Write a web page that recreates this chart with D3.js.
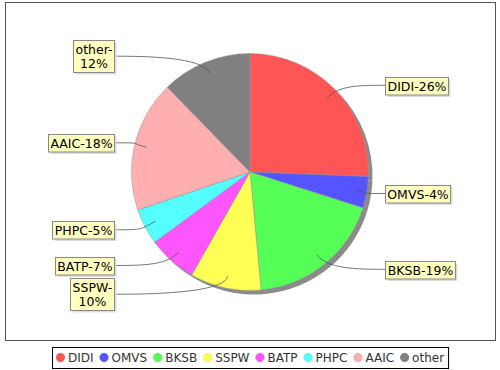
<!DOCTYPE html>
<html>
<head>
<meta charset="utf-8">
<script src="https://cdn.jsdelivr.net/npm/d3@7"></script>
<style>
  body { margin: 0; background: #fff; }
  text { font-family: "DejaVu Sans", sans-serif; }
</style>
</head>
<body>
<div id="chart"></div>
<script>
// slice data, clockwise from 12 o'clock
var names = ["DIDI", "OMVS", "BKSB", "SSPW", "BATP", "PHPC", "AAIC", "other"];
var shares = [25.6, 4.3, 18.6, 9.7, 6.7, 4.9, 17.9, 12.3];
var colors = ["#ff5555", "#5555ff", "#55ff55", "#ffff55", "#ff55ff", "#55ffff", "#ffafaf", "#808080"];
// labels that wrap after the dash
var wrapped = ["other", "SSPW"];

var svgWidth = 500, svgHeight = 370;
var cx = 250, cy = 172, r = 118.5;

var svg = d3.select("#chart").append("svg")
    .attr("width", svgWidth)
    .attr("height", svgHeight);

// plot border
svg.append("rect")
    .attr("x", 5.5).attr("y", 2.5)
    .attr("width", 490).attr("height", 338)
    .attr("fill", "#fff")
    .attr("stroke", "#555");

var pie = d3.pie().sort(null).value(d => d);
var arcs = pie(shares);
var arc = d3.arc().innerRadius(0).outerRadius(r);

var g = svg.append("g").attr("transform", `translate(${cx},${cy})`);

// shadow
g.append("g").attr("transform", "translate(4,4)")
  .selectAll("path").data(arcs).enter().append("path")
    .attr("d", arc)
    .attr("fill", "#8a8a8a");

g.selectAll("path.slice").data(arcs).enter().append("path")
    .attr("class", "slice")
    .attr("d", arc)
    .attr("fill", (d, i) => colors[i])
    .attr("stroke", "#999")
    .attr("stroke-width", 0.5);

// labels
var labelR = 125;
var labelG = svg.append("g");
arcs.forEach(function(d, i) {
  var mid = (d.startAngle + d.endAngle) / 2;
  var right = Math.sin(mid) >= 0;
  var pct = Math.round(d.value) + "%";
  var lines = wrapped.includes(names[i]) ? [names[i] + "-", pct] : [names[i] + "-" + pct];

  var ax = cx + Math.sin(mid) * r * 0.9, ay = cy - Math.cos(mid) * r * 0.9;
  var ly = cy - Math.cos(mid) * labelR;

  var box = labelG.append("g");
  var t = box.append("text")
      .attr("font-size", "12.5px")
      .attr("fill", "#000")
      .attr("text-anchor", "middle");
  lines.forEach(function(s, k) {
    t.append("tspan").attr("x", 0).attr("dy", k == 0 ? 0 : 14.5).text(s);
  });
  var w = Math.round(d3.max(t.selectAll("tspan").nodes(), n => n.getComputedTextLength()) + 4);
  var h = lines.length * 14.5 + 3;
  var bx = right ? 385.5 : 114.5 - w;
  var by = Math.round(ly - h / 2) + 0.5;

  // leader
  var lx = right ? bx : bx + w;
  var ex = cx + Math.sin(mid) * r * 1.05, ey = cy - Math.cos(mid) * r * 1.05;
  labelG.insert("path", ":first-child")
      .attr("d", `M${ax},${ay} C${ex},${ey} ${lx + (right ? -30 : 30)},${ly} ${lx},${ly}`)
      .attr("fill", "none")
      .attr("stroke", "#555")
      .attr("stroke-width", 0.8);

  box.insert("rect", "text")
      .attr("x", bx + 2).attr("y", by + 2)
      .attr("width", w).attr("height", h)
      .attr("fill", "#ddd");
  box.insert("rect", "text")
      .attr("x", bx).attr("y", by)
      .attr("width", w).attr("height", h)
      .attr("fill", "#ffffc0")
      .attr("stroke", "#888")
      .attr("stroke-width", 1);
  t.attr("transform", `translate(${bx + w / 2},${by + 13})`);
});

// legend
var legend = svg.append("g");
var items = legend.selectAll("g").data(names).enter().append("g");
items.append("circle")
    .attr("r", 4.2)
    .attr("cx", 4.5).attr("cy", 0)
    .attr("fill", (d, i) => colors[i])
    .attr("stroke", (d, i) => d3.color(colors[i]).darker(0.4))
    .attr("stroke-width", 0.6);
items.append("text")
    .attr("x", 12).attr("y", 4.5)
    .attr("font-size", "12px")
    .attr("fill", "#333")
    .text(d => d);
var xpos = 0;
items.each(function() {
  var tw = d3.select(this).select("text").node().getComputedTextLength();
  d3.select(this).attr("transform", `translate(${xpos},0)`);
  xpos += 12 + tw + 6;
});
var legW = xpos - 6 + 8;
var lx0 = Math.round(250 - legW / 2);
legend.attr("transform", `translate(${lx0 + 4},357.5)`);
svg.append("rect")
    .attr("x", lx0 + 0.5).attr("y", 347.5)
    .attr("width", legW).attr("height", 21)
    .attr("fill", "none")
    .attr("stroke", "#000");
</script>
</body>
</html>
